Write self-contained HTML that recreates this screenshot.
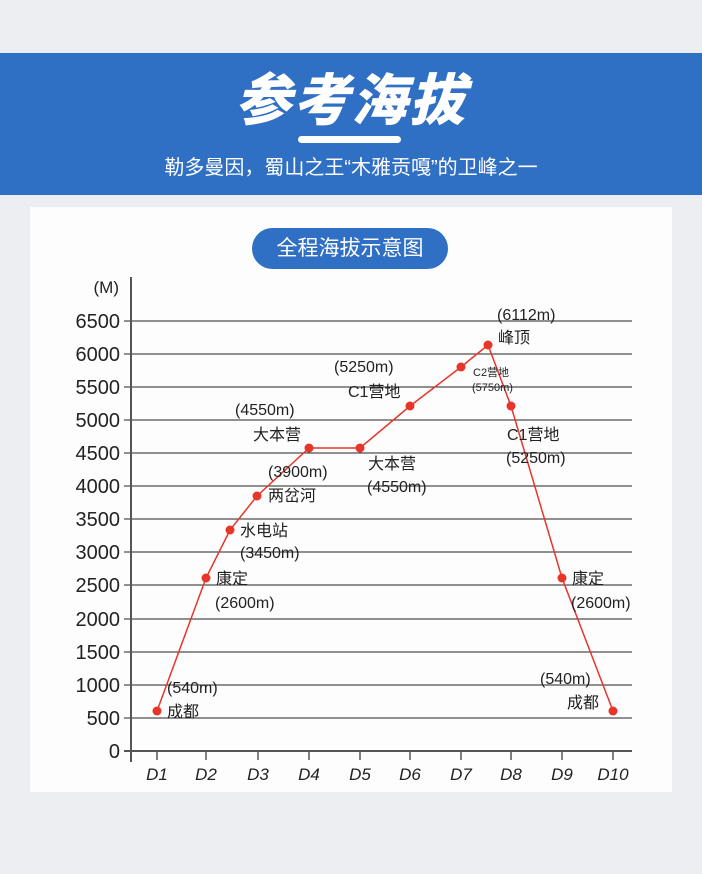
<!DOCTYPE html>
<html><head><meta charset="utf-8"><style>
body{margin:0;width:702px;height:874px;background:#eceef1;position:relative;overflow:hidden;font-family:"Liberation Sans","Noto Sans CJK SC",sans-serif}
.band{position:absolute;left:0;top:53px;width:702px;height:142px;background:#2f6fc4}
.title{position:absolute;top:56px;width:702px;text-align:center;color:#fff;font-size:56px;font-weight:900;font-style:italic;letter-spacing:2px}
.bar{position:absolute;left:298px;top:136px;width:103px;height:7px;border-radius:4px;background:#fff}
.sub{position:absolute;top:151px;width:702px;text-align:center;color:#fff;font-size:20px}
.panel{position:absolute;left:30px;top:207px;width:642px;height:585px;background:#fdfdfd}
.pill{position:absolute;left:252px;top:228px;width:196px;height:41px;border-radius:21px;background:#2f6fc4;color:#fff;font-size:21px;text-align:center;line-height:41px}
</style></head><body>
<div class="band"></div>
<div class="title">参考海拔</div>
<div class="bar"></div>
<div class="sub">勒多曼因，蜀山之王“木雅贡嘎”的卫峰之一</div>
<div class="panel"></div>
<div class="pill">全程海拔示意图</div>
<svg style="position:absolute;left:0;top:0" width="702" height="874" font-family="Liberation Sans,Noto Sans CJK SC,sans-serif">
<g stroke="#222" stroke-width="1">
<line x1="124" y1="321" x2="632" y2="321"/><line x1="124" y1="354" x2="632" y2="354"/><line x1="124" y1="387" x2="632" y2="387"/><line x1="124" y1="420" x2="632" y2="420"/><line x1="124" y1="453" x2="632" y2="453"/><line x1="124" y1="486" x2="632" y2="486"/><line x1="124" y1="519" x2="632" y2="519"/><line x1="124" y1="552" x2="632" y2="552"/><line x1="124" y1="585" x2="632" y2="585"/><line x1="124" y1="619" x2="632" y2="619"/><line x1="124" y1="652" x2="632" y2="652"/><line x1="124" y1="685" x2="632" y2="685"/><line x1="124" y1="718" x2="632" y2="718"/>
</g>
<line x1="124" y1="751" x2="632" y2="751" stroke="#555" stroke-width="2"/>
<line x1="131" y1="277" x2="131" y2="762" stroke="#555" stroke-width="2"/>
<g stroke="#555" stroke-width="1.5"><line x1="157" y1="751" x2="157" y2="760"/><line x1="206" y1="751" x2="206" y2="760"/><line x1="258" y1="751" x2="258" y2="760"/><line x1="309" y1="751" x2="309" y2="760"/><line x1="360" y1="751" x2="360" y2="760"/><line x1="410" y1="751" x2="410" y2="760"/><line x1="461" y1="751" x2="461" y2="760"/><line x1="511" y1="751" x2="511" y2="760"/><line x1="562" y1="751" x2="562" y2="760"/><line x1="613" y1="751" x2="613" y2="760"/></g>
<g font-size="20" fill="#222" text-anchor="end">
<text x="120" y="328">6500</text><text x="120" y="361">6000</text><text x="120" y="394">5500</text><text x="120" y="427">5000</text><text x="120" y="460">4500</text><text x="120" y="493">4000</text><text x="120" y="526">3500</text><text x="120" y="559">3000</text><text x="120" y="592">2500</text><text x="120" y="626">2000</text><text x="120" y="659">1500</text><text x="120" y="692">1000</text><text x="120" y="725">500</text><text x="120" y="758">0</text>
<text x="119" y="293" font-size="17">(M)</text>
</g>
<g font-size="17" font-style="italic" fill="#222" text-anchor="middle">
<text x="157" y="780">D1</text><text x="206" y="780">D2</text><text x="258" y="780">D3</text><text x="309" y="780">D4</text><text x="360" y="780">D5</text><text x="410" y="780">D6</text><text x="461" y="780">D7</text><text x="511" y="780">D8</text><text x="562" y="780">D9</text><text x="613" y="780">D10</text>
</g>
<polyline fill="none" stroke="#e8352a" stroke-width="1.5" points="157,711 206,578 230,530 257,496 309,448 360,448 410,406 461,367 488,345 511,406 562,578 613,711"/>
<g fill="#e8352a"><circle cx="157" cy="711" r="4.5"/><circle cx="206" cy="578" r="4.5"/><circle cx="230" cy="530" r="4.5"/><circle cx="257" cy="496" r="4.5"/><circle cx="309" cy="448" r="4.5"/><circle cx="360" cy="448" r="4.5"/><circle cx="410" cy="406" r="4.5"/><circle cx="461" cy="367" r="4.5"/><circle cx="488" cy="345" r="4.5"/><circle cx="511" cy="406" r="4.5"/><circle cx="562" cy="578" r="4.5"/><circle cx="613" cy="711" r="4.5"/></g>
<g font-size="16" fill="#222">
<text x="167" y="693">(540m)</text><text x="167" y="717">成都</text>
<text x="216" y="584">康定</text><text x="215" y="608">(2600m)</text>
<text x="240" y="536">水电站</text><text x="240" y="558">(3450m)</text>
<text x="268" y="477">(3900m)</text><text x="268" y="501">两岔河</text>
<text x="235" y="415">(4550m)</text><text x="253" y="440">大本营</text>
<text x="368" y="469">大本营</text><text x="367" y="492">(4550m)</text>
<text x="334" y="372">(5250m)</text><text x="348" y="397">C1营地</text>
<text x="497" y="320">(6112m)</text><text x="498" y="343">峰顶</text>
<text x="507" y="440">C1营地</text><text x="506" y="463">(5250m)</text>
<text x="572" y="584">康定</text><text x="571" y="608">(2600m)</text>
<text x="540" y="684">(540m)</text><text x="567" y="708">成都</text>
<text x="473" y="376" font-size="11">C2营地</text><text x="472" y="391" font-size="11">(5750m)</text>
</g>
</svg>
</body></html>
